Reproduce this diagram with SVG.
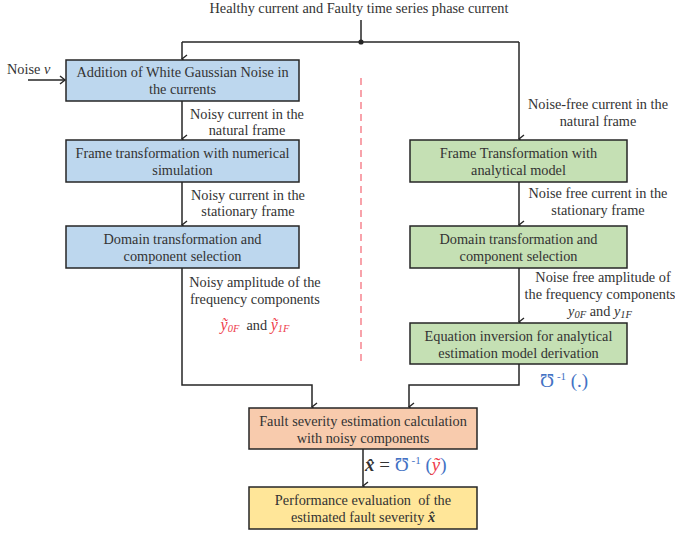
<svg xmlns="http://www.w3.org/2000/svg" width="675" height="534" viewBox="0 0 675 534">
<defs>
<marker id="arr" markerWidth="10" markerHeight="10" refX="5" refY="6" orient="auto" markerUnits="userSpaceOnUse" viewBox="0 0 10 10">
<path d="M1,1 L5,6 L9,1" fill="none" stroke="#262626" stroke-width="1.4"/>
</marker>
<marker id="arrR" markerWidth="10" markerHeight="10" refX="6" refY="5" orient="auto" markerUnits="userSpaceOnUse" viewBox="0 0 10 10">
<path d="M1,1 L6,5 L1,9" fill="none" stroke="#262626" stroke-width="1.4"/>
</marker>
<style>
text{font-family:"Liberation Serif","Times New Roman",serif;font-size:14.3px;fill:#333;}
.c{text-anchor:middle;}
.box{stroke:#262626;stroke-width:1.5;}
.blue{fill:#BDD7EE;}
.green{fill:#C5E0B4;}
.orange{fill:#F8CBAD;}
.yellow{fill:#FFE699;}
.ln{fill:none;stroke:#262626;stroke-width:1.5;}
.red{fill:#EE3B4A;font-style:italic;}
.bl{fill:#4472C4;}
.it{font-style:italic;}
.sub{font-size:10.5px;}
.big{font-size:16px;}
.sup{font-size:11px;}
.m{font-size:19px;}
</style>
</defs>
<rect width="675" height="534" fill="#fff"/>

<text id="title" class="c" x="359" y="13">Healthy current and Faulty time series phase current</text>
<text id="noise" x="7" y="74">Noise <tspan class="it">v</tspan></text>

<g id="connectors">
<line class="ln" x1="361" y1="20" x2="361" y2="42"/>
<circle cx="361" cy="42" r="2.6" fill="#262626"/>
<polyline class="ln" points="182,42 519,42"/>
<line class="ln" x1="182" y1="42" x2="182" y2="59" marker-end="url(#arr)"/>
<line class="ln" x1="519" y1="42" x2="519" y2="139" marker-end="url(#arr)"/>
<line class="ln" x1="28" y1="80" x2="65" y2="80" marker-end="url(#arrR)"/>
<line class="ln" x1="182" y1="101" x2="182" y2="139" marker-end="url(#arr)"/>
<line class="ln" x1="182" y1="182" x2="182" y2="225" marker-end="url(#arr)"/>
<polyline class="ln" points="182,268 182,385 312,385 312,407" marker-end="url(#arr)"/>
<line class="ln" x1="519" y1="182" x2="519" y2="225" marker-end="url(#arr)"/>
<line class="ln" x1="519" y1="268" x2="519" y2="322" marker-end="url(#arr)"/>
<polyline class="ln" points="519,364 519,385 409,385 409,407" marker-end="url(#arr)"/>
<line class="ln" x1="363" y1="449" x2="363" y2="486" marker-end="url(#arr)"/>
<line x1="361" y1="78" x2="361" y2="365" stroke="#F4727E" stroke-width="1.3" stroke-dasharray="7,5"/>
</g>

<g id="labels">
<text class="c" x="247" y="119">Noisy current in the</text>
<text class="c" x="247" y="135">natural frame</text>
<text class="c" x="248" y="200">Noisy current in the</text>
<text class="c" x="248" y="216">stationary frame</text>
<text class="c" x="255" y="287">Noisy amplitude of the</text>
<text class="c" x="255" y="304">frequency components</text>
<text class="c" x="255" y="330" xml:space="preserve"><tspan class="red big">ỹ</tspan><tspan class="red sub" dy="2">0F</tspan><tspan dy="-2">  and </tspan><tspan class="red big">ỹ</tspan><tspan class="red sub" dy="2">1F</tspan></text>
<text class="c" x="598" y="109">Noise-free current in the</text>
<text class="c" x="598" y="126">natural frame</text>
<text class="c" x="598" y="198">Noise free current in the</text>
<text class="c" x="598" y="215">stationary frame</text>
<text class="c" x="603" y="282">Noise free amplitude of</text>
<text class="c" x="600" y="299">the frequency components</text>
<text class="c" x="600" y="316"><tspan class="it">y</tspan><tspan class="it sub" dy="2">0F</tspan><tspan dy="-2"> and </tspan><tspan class="it">y</tspan><tspan class="it sub" dy="2">1F</tspan></text>
<text x="540" y="387" class="bl m">Ʊ<tspan class="sup" dy="-7"> -1</tspan><tspan dy="7"> (.)</tspan></text>
<text x="365" y="471" class="m"><tspan font-weight="bold" font-style="italic">x̂</tspan> = <tspan class="bl">Ʊ</tspan><tspan class="bl sup" dy="-7"> -1</tspan><tspan class="bl" dy="7"> (</tspan><tspan class="red">ỹ</tspan><tspan class="bl">)</tspan></text>
</g>

<g id="n1"><rect class="box blue" x="66" y="60" width="233" height="41"/>
<text class="c" x="182.5" y="77">Addition of White Gaussian Noise in</text>
<text class="c" x="182.5" y="94">the currents</text></g>
<g id="n2"><rect class="box blue" x="66" y="140" width="233" height="42"/>
<text class="c" x="182.5" y="158">Frame transformation with numerical</text>
<text class="c" x="182.5" y="175">simulation</text></g>
<g id="n3"><rect class="box blue" x="66" y="226" width="233" height="42"/>
<text class="c" x="182.5" y="244">Domain transformation and</text>
<text class="c" x="182.5" y="261">component selection</text></g>
<g id="r1"><rect class="box green" x="410" y="140" width="217" height="42"/>
<text class="c" x="518.5" y="158">Frame Transformation with</text>
<text class="c" x="518.5" y="175">analytical model</text></g>
<g id="r2"><rect class="box green" x="410" y="226" width="217" height="42"/>
<text class="c" x="518.5" y="244">Domain transformation and</text>
<text class="c" x="518.5" y="261">component selection</text></g>
<g id="r3"><rect class="box green" x="410" y="323" width="217" height="41"/>
<text class="c" x="518.5" y="341">Equation inversion for analytical</text>
<text class="c" x="518.5" y="358">estimation model derivation</text></g>
<g id="f1"><rect class="box orange" x="249" y="408" width="228" height="41"/>
<text class="c" x="363" y="426">Fault severity estimation calculation</text>
<text class="c" x="363" y="443">with noisy components</text></g>
<g id="f2"><rect class="box yellow" x="249" y="487" width="228" height="42"/>
<text class="c" x="363" y="505" xml:space="preserve">Performance evaluation  of the</text>
<text class="c" x="363" y="522" xml:space="preserve">estimated fault severity <tspan font-weight="bold" font-style="italic">x̂</tspan></text></g>
</svg>
